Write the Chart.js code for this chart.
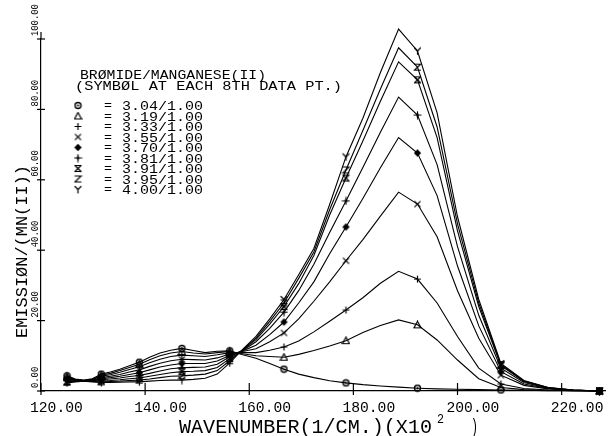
<!DOCTYPE html>
<html><head><meta charset="utf-8">
<script src="https://cdn.jsdelivr.net/npm/chart.js@4.4.1/dist/chart.umd.min.js"></script>
<style>html,body{margin:0;padding:0;background:#fff;}</style>
</head><body>
<canvas id="c" width="610" height="436"></canvas>
<script>
// ---- data (wavenumber in units of 100 cm^-1) ----
const wavenumbers = [125.00,126.58,128.21,129.87,131.58,133.33,135.14,136.99,138.89,140.85,142.86,144.93,147.06,149.25,151.52,153.85,156.25,158.73,161.29,163.93,166.67,169.49,172.41,175.44,178.57,181.82,185.19,188.68,192.31,196.08,200.00,204.08,208.33,212.77,217.39,222.22,227.27];
const ratios = ['3.04/1.00','3.19/1.00','3.33/1.00','3.55/1.00','3.70/1.00','3.81/1.00','3.91/1.00','3.95/1.00','4.00/1.00'];
const s304 = [4.3,3.4,3.1,3.5,4.8,5.4,6.2,7.2,8.2,9.6,10.8,11.6,12.1,11.5,10.9,11.3,11.4,10.3,9.3,7.8,6.2,4.8,3.8,2.9,2.3,1.8,1.4,1.1,0.8,0.6,0.5,0.4,0.3,0.2,0.1,0.1,0.0];
const s319 = [4.1,3.3,3.0,3.4,4.5,5.0,5.8,6.7,7.6,8.9,10.0,10.8,11.2,10.8,10.5,10.9,11.2,10.6,10.0,9.8,9.6,10.4,11.5,12.8,14.3,16.6,18.6,20.2,18.8,14.5,8.8,3.5,1.0,0.4,0.2,0.1,0.0];
const s333 = [3.9,3.2,3.0,3.3,4.2,4.6,5.3,6.1,6.9,8.0,9.0,9.8,10.2,10.0,9.8,10.3,10.9,10.9,10.9,11.6,12.5,14.2,16.8,19.8,23.0,26.5,30.6,34.0,31.8,25.0,15.5,6.5,2.0,0.7,0.3,0.1,0.0];
const s355 = [3.6,3.1,2.9,3.1,3.8,4.2,4.7,5.4,6.0,7.0,7.9,8.6,9.0,8.9,8.8,9.4,10.5,11.2,12.0,14.0,16.5,20.5,25.5,31.0,37.0,43.0,49.7,56.5,53.1,43.8,28.5,15.0,4.5,1.6,0.6,0.2,0.0];
const s370 = [3.3,3.0,2.9,3.0,3.5,3.8,4.2,4.7,5.2,6.0,6.8,7.4,7.8,7.8,7.8,8.5,10.1,11.4,13.0,16.0,19.6,25.0,31.0,39.0,46.6,54.7,63.4,72.0,67.6,55.5,35.5,18.5,5.5,2.0,0.7,0.2,0.0];
const s381 = [3.0,2.9,2.8,2.9,3.2,3.4,3.7,4.1,4.4,5.0,5.7,6.3,6.6,6.7,6.8,7.6,9.7,11.5,14.0,17.8,22.4,28.5,36.0,45.0,54.0,63.5,73.5,83.5,78.4,64.3,41.0,21.5,6.5,2.4,0.8,0.3,0.0];
const s391 = [2.7,2.8,2.8,2.8,2.9,3.0,3.2,3.5,3.7,4.2,4.7,5.2,5.5,5.6,5.8,6.7,9.2,11.6,14.6,19.0,24.0,30.5,38.5,50.0,60.5,71.0,82.3,93.5,88.4,72.0,45.5,24.0,7.2,2.7,0.9,0.3,0.0];
const s395 = [2.5,2.7,2.8,2.7,2.6,2.7,2.8,3.0,3.1,3.4,3.8,4.2,4.3,4.5,4.8,5.8,8.6,11.7,15.0,19.8,25.0,32.0,39.5,51.5,62.8,74.0,85.8,97.5,92.0,75.0,47.5,25.0,7.5,2.8,1.0,0.3,0.0];
const s400 = [2.3,2.6,2.8,2.6,2.4,2.4,2.5,2.6,2.6,2.8,3.0,3.1,3.1,3.3,3.6,4.8,8.0,11.8,15.5,20.5,26.0,33.0,40.5,53.0,66.5,77.5,90.5,102.8,96.6,79.0,49.5,26.0,7.8,3.0,1.0,0.3,0.0];
const xTickValues = [120,140,160,180,200,220];
const yTickValues = [0,20,40,60,80,100];
const xTickLabels = ['120.00','140.00','160.00','180.00','200.00','220.00'];
const yTickLabels = ['0.00','20.00','40.00','60.00','80.00','100.00'];
const legendTitle = ['BRØMIDE/MANGANESE(II)','(SYMBØL AT EACH 8TH DATA PT.)'];
const xTitle = 'WAVENUMBER(1/CM.)(X10';
const xTitleSup = '2';
const xTitleEnd = ')';
const yTitle = 'EMISSIØN/(MN(II))';
const markerEvery = 4;

// ---- marker glyphs ----
function mk(draw){
  const c=document.createElement('canvas'); c.width=9; c.height=9;
  const g=c.getContext('2d'); g.strokeStyle='#000'; g.fillStyle='#000'; g.lineWidth=1.2; g.lineCap='round';
  draw(g); return c;
}
function ln(g,pts){g.beginPath();g.moveTo(pts[0],pts[1]);for(let i=2;i<pts.length;i+=2)g.lineTo(pts[i],pts[i+1]);g.stroke();}
const markers = [
  mk(g=>{g.beginPath();g.arc(4.5,4.5,3,0,Math.PI*2);g.lineWidth=1.4;g.stroke();g.beginPath();g.arc(4.5,4.5,1,0,Math.PI*2);g.fill();}),
  mk(g=>{g.beginPath();g.moveTo(4.5,1);g.lineTo(8,7.5);g.lineTo(1,7.5);g.closePath();g.stroke();}),
  mk(g=>{ln(g,[4.5,1.5,4.5,7.5]);ln(g,[1.5,4.5,7.5,4.5]);}),
  mk(g=>{ln(g,[1.8,1.8,7.2,7.2]);ln(g,[7.2,1.8,1.8,7.2]);}),
  mk(g=>{g.beginPath();g.moveTo(4.5,0.8);g.lineTo(8.2,4.5);g.lineTo(4.5,8.2);g.lineTo(0.8,4.5);g.closePath();g.fill();}),
  mk(g=>{ln(g,[4.5,1,4.5,8]);ln(g,[1,4.5,8,4.5]);g.beginPath();g.moveTo(4.5,2.5);g.lineTo(6.5,4.5);g.lineTo(4.5,6.5);g.lineTo(2.5,4.5);g.closePath();g.fill();}),
  mk(g=>{ln(g,[1.5,1.5,7.5,1.5]);ln(g,[1.5,7.5,7.5,7.5]);ln(g,[1.5,1.5,7.5,7.5]);ln(g,[7.5,1.5,1.5,7.5]);}),
  mk(g=>{ln(g,[1.5,1.5,7.5,1.5,1.5,7.5,7.5,7.5]);}),
  mk(g=>{ln(g,[1.5,1.5,4.5,4.5]);ln(g,[7.5,1.5,4.5,4.5]);ln(g,[4.5,4.5,4.5,8]);})
];

const series = [s304,s319,s333,s355,s370,s381,s391,s395,s400];
const FONT = '"Liberation Mono","DejaVu Sans Mono",monospace';

function fitText(ctx,text,x,y,size,width,rot){
  ctx.save();
  ctx.font = size+'px '+FONT;
  const w = ctx.measureText(text).width;
  ctx.translate(x,y);
  if(rot) ctx.rotate(rot);
  ctx.scale(width/w,1);
  ctx.textAlign='left'; ctx.textBaseline='alphabetic'; ctx.fillStyle='#000';
  ctx.fillText(text,0,0);
  ctx.restore();
}

const decor = {
  id:'decor',
  afterDraw(chart){
    const ctx=chart.ctx, xs=chart.scales.x, ys=chart.scales.y;
    const x0=xs.getPixelForValue(120), yb=ys.getPixelForValue(0), yt=ys.getPixelForValue(100);
    ctx.save();
    ctx.strokeStyle='#000'; ctx.lineWidth=1.2;
    ctx.beginPath(); ctx.moveTo(x0,yt); ctx.lineTo(x0,yt-7); ctx.stroke();
    xTickValues.forEach((v,i)=>{
      const px=xs.getPixelForValue(v);
      ctx.beginPath(); ctx.moveTo(px,yb-8); ctx.lineTo(px,yb+4); ctx.stroke();
      fitText(ctx,xTickLabels[i],px-11,412,15,xTickLabels[i].length*8.8);
    });
    yTickValues.forEach((v,i)=>{
      const py=ys.getPixelForValue(v);
      ctx.beginPath(); ctx.moveTo(x0-4,py); ctx.lineTo(x0+4,py); ctx.stroke();
      fitText(ctx,yTickLabels[i],37.5,py-3,10.5,yTickLabels[i].length*5.3,-Math.PI/2);
    });
    fitText(ctx,xTitle,179,433,21,253);
    fitText(ctx,xTitleSup,437,423,13,7);
    fitText(ctx,xTitleEnd,471,433,21,7);
    fitText(ctx,yTitle,26.5,338,16.5,173,-Math.PI/2);
    fitText(ctx,legendTitle[0],80,79,13.6,186);
    fitText(ctx,legendTitle[1],75,90,13.6,267);
    ratios.forEach((r,i)=>{
      const by=110+10.5*i;
      const m=markers[i];
      ctx.drawImage(m,78-m.width/2,by-4.5-m.height/2);
      fitText(ctx,'=',104,by-1,12,8);
      fitText(ctx,r,122,by,13,81);
    });
    ctx.restore();
  }
};

new Chart(document.getElementById('c'),{
  type:'line',
  data:{
    datasets: series.map((vals,i)=>({
      label: ratios[i],
      data: vals.map((v,j)=>({x:wavenumbers[j],y:v})),
      borderColor:'#000', borderWidth:1.1, tension:0, fill:false, clip:false,
      pointStyle: markers[i],
      pointRadius: c => (c.dataIndex % markerEvery === 0 ? 3 : 0),
      pointHoverRadius: 0
    }))
  },
  options:{
    responsive:false, animation:false, devicePixelRatio:1,
    layout:{padding:{top:39,right:4,left:0,bottom:0}},
    plugins:{legend:{display:false},tooltip:{enabled:false}},
    scales:{
      x:{type:'linear',min:120,max:228.5,
        afterBuildTicks:s=>{s.ticks=xTickValues.map(v=>({value:v}));},
        afterFit:s=>{s.height=45;},
        ticks:{display:false},grid:{display:false},
        border:{display:true,color:'#000',width:1.2}},
      y:{type:'linear',min:0,max:100,
        afterBuildTicks:s=>{s.ticks=yTickValues.map(v=>({value:v}));},
        afterFit:s=>{s.width=41;},
        ticks:{display:false},grid:{display:false},
        border:{display:true,color:'#000',width:1.2}}
    }
  },
  plugins:[decor]
});
</script>
</body></html>
